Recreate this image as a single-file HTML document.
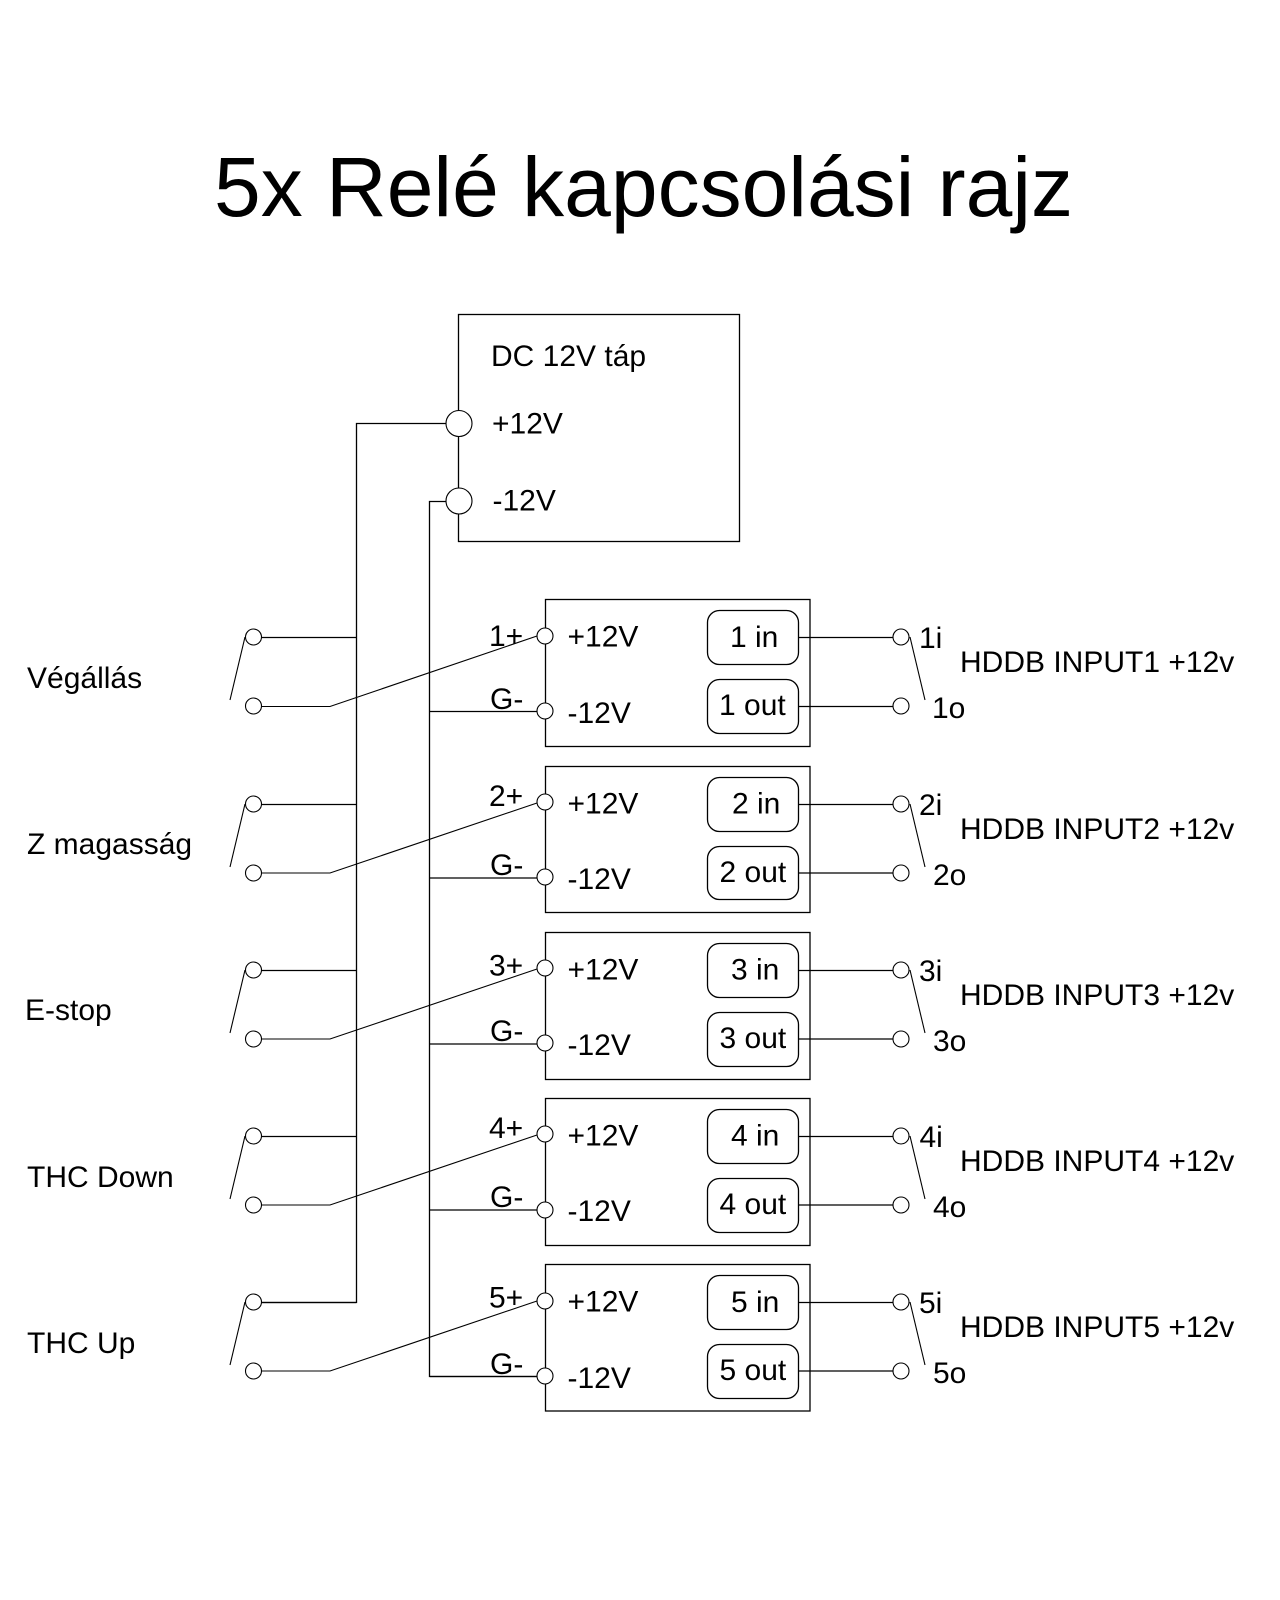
<!DOCTYPE html>
<html><head><meta charset="utf-8"><style>
html,body{margin:0;padding:0;background:#fff}
svg{display:block}
text{font-family:"Liberation Sans",Arial,sans-serif;font-size:30px;fill:#000}
.l{fill:none;stroke:#000;stroke-width:1.3}
.t{fill:none;stroke:#000;stroke-width:1.1}
.c{fill:#fff;stroke:#000;stroke-width:1.1}
</style></head><body>
<svg width="1280" height="1600" viewBox="0 0 1280 1600" xmlns="http://www.w3.org/2000/svg">
<rect width="1280" height="1600" fill="#fff"/>
<text x="214" y="216" style="font-size:84px">5x Relé kapcsolási rajz</text>
<rect class="l" x="458.5" y="314.5" width="281" height="227"/>
<path class="l" d="M446 423.5H356.5V1302.5H253M446 501.5H429.5V1376.5H537"/>
<circle class="c" cx="459" cy="423.5" r="13"/><circle class="c" cx="459" cy="501" r="13"/>
<text x="491" y="366">DC 12V táp</text>
<text x="492" y="433.5">+12V</text><text x="492.5" y="510.5">-12V</text>

<g>
<path class="l" d="M356 637.5H253M430 711.5H537"/>
<rect class="l" x="545.5" y="599.5" width="264.5" height="147"/>
<path class="t" d="M245 637L230 700M261 706.5H330L537 636"/>
<circle class="c" cx="253.5" cy="637" r="8"/><circle class="c" cx="253.5" cy="706" r="8"/><circle class="c" cx="545" cy="636" r="8"/><circle class="c" cx="545" cy="711" r="8"/>
<path class="l" d="M799 637.5H893M799 706.5H893"/>
<path class="t" d="M910 637L925 700"/>
<circle class="c" cx="901" cy="637" r="8"/><circle class="c" cx="901" cy="706" r="8"/>
<rect class="l" x="707.5" y="610.5" width="91" height="54" rx="12"/><rect class="l" x="707.5" y="679.5" width="91" height="54" rx="12"/>
<text x="489" y="646">1+</text><text x="490" y="709">G-</text><text x="567.5" y="646.5">+12V</text><text x="567.5" y="723">-12V</text>
<text x="730" y="647">1 in</text><text x="719" y="715">1 out</text>
<text x="919" y="648">1i</text><text x="932" y="718">1o</text>
<text x="960" y="672">HDDB INPUT1 +12v</text><text x="27" y="688">Végállás</text>
</g>
<g transform="translate(0,167)">
<path class="l" d="M356 637.5H253M430 711H537"/>
<rect class="l" x="545.5" y="599.5" width="264.5" height="146"/>
<path class="t" d="M245 637L230 700M261 706H330L537 636"/>
<circle class="c" cx="253.5" cy="637" r="8"/><circle class="c" cx="253.5" cy="706" r="8"/><circle class="c" cx="545" cy="635" r="8"/><circle class="c" cx="545" cy="710" r="8"/>
<path class="l" d="M799 637.5H893M799 706H893"/>
<path class="t" d="M910 637L925 700"/>
<circle class="c" cx="901" cy="637" r="8"/><circle class="c" cx="901" cy="706" r="8"/>
<rect class="l" x="707.5" y="610.5" width="91" height="54" rx="12"/><rect class="l" x="707.5" y="679.5" width="91" height="53" rx="12"/>
<text x="489" y="639">2+</text><text x="490" y="708">G-</text><text x="567.5" y="646.5">+12V</text><text x="567.5" y="722">-12V</text>
<text x="732" y="646.5">2 in</text><text x="719.5" y="715">2 out</text>
<text x="919" y="648">2i</text><text x="933" y="718">2o</text>
<text x="960" y="672">HDDB INPUT2 +12v</text><text x="27" y="687">Z magasság</text>
</g>
<g transform="translate(0,333)">
<path class="l" d="M356 637.5H253M430 711H537"/>
<rect class="l" x="545.5" y="599.5" width="264.5" height="147"/>
<path class="t" d="M245 637L230 700M261 706H330L537 636"/>
<circle class="c" cx="253.5" cy="637" r="8"/><circle class="c" cx="253.5" cy="706" r="8"/><circle class="c" cx="545" cy="635" r="8"/><circle class="c" cx="545" cy="710" r="8"/>
<path class="l" d="M799 637.5H893M799 706H893"/>
<path class="t" d="M910 637L925 700"/>
<circle class="c" cx="901" cy="637" r="8"/><circle class="c" cx="901" cy="706" r="8"/>
<rect class="l" x="707.5" y="610.5" width="91" height="54" rx="12"/><rect class="l" x="707.5" y="679.5" width="91" height="54" rx="12"/>
<text x="489" y="642.5">3+</text><text x="490" y="708">G-</text><text x="567.5" y="646.5">+12V</text><text x="567.5" y="722">-12V</text>
<text x="731" y="646.5">3 in</text><text x="719.5" y="715">3 out</text>
<text x="919" y="648">3i</text><text x="933" y="718">3o</text>
<text x="960" y="672">HDDB INPUT3 +12v</text><text x="25" y="687">E-stop</text>
</g>
<g transform="translate(0,499)">
<path class="l" d="M356 637.5H253M430 711H537"/>
<rect class="l" x="545.5" y="599.5" width="264.5" height="147"/>
<path class="t" d="M245 637L230 700M261 706H330L537 636"/>
<circle class="c" cx="253.5" cy="637" r="8"/><circle class="c" cx="253.5" cy="706" r="8"/><circle class="c" cx="545" cy="635" r="8"/><circle class="c" cx="545" cy="711" r="8"/>
<path class="l" d="M799 637.5H893M799 706H893"/>
<path class="t" d="M910 637L925 700"/>
<circle class="c" cx="901" cy="637" r="8"/><circle class="c" cx="901" cy="706" r="8"/>
<rect class="l" x="707.5" y="610.5" width="91" height="54" rx="12"/><rect class="l" x="707.5" y="679.5" width="91" height="54" rx="12"/>
<text x="489" y="639">4+</text><text x="490" y="708">G-</text><text x="567.5" y="646.5">+12V</text><text x="567.5" y="722">-12V</text>
<text x="731" y="646.5">4 in</text><text x="719.5" y="715">4 out</text>
<text x="919.5" y="648">4i</text><text x="933" y="718">4o</text>
<text x="960" y="672">HDDB INPUT4 +12v</text><text x="27" y="688">THC Down</text>
</g>
<g transform="translate(0,665)">
<path class="l" d="M356 637.5H253M430 711.5H537"/>
<rect class="l" x="545.5" y="599.5" width="264.5" height="146.5"/>
<path class="t" d="M245 637L230 700M261 706H330L537 636"/>
<circle class="c" cx="253.5" cy="637" r="8"/><circle class="c" cx="253.5" cy="706" r="8"/><circle class="c" cx="545" cy="636" r="8"/><circle class="c" cx="545" cy="711" r="8"/>
<path class="l" d="M799 637.5H893M799 706H893"/>
<path class="t" d="M910 637L925 700"/>
<circle class="c" cx="901" cy="637" r="8"/><circle class="c" cx="901" cy="706" r="8"/>
<rect class="l" x="707.5" y="610.5" width="91" height="54" rx="12"/><rect class="l" x="707.5" y="679.5" width="91" height="54" rx="12"/>
<text x="489" y="642.5">5+</text><text x="490" y="709">G-</text><text x="567.5" y="646.5">+12V</text><text x="567.5" y="723">-12V</text>
<text x="731" y="647">5 in</text><text x="719.5" y="715">5 out</text>
<text x="919" y="648">5i</text><text x="933" y="718">5o</text>
<text x="960" y="672">HDDB INPUT5 +12v</text><text x="27" y="688">THC Up</text>
</g>
</svg>
</body></html>
